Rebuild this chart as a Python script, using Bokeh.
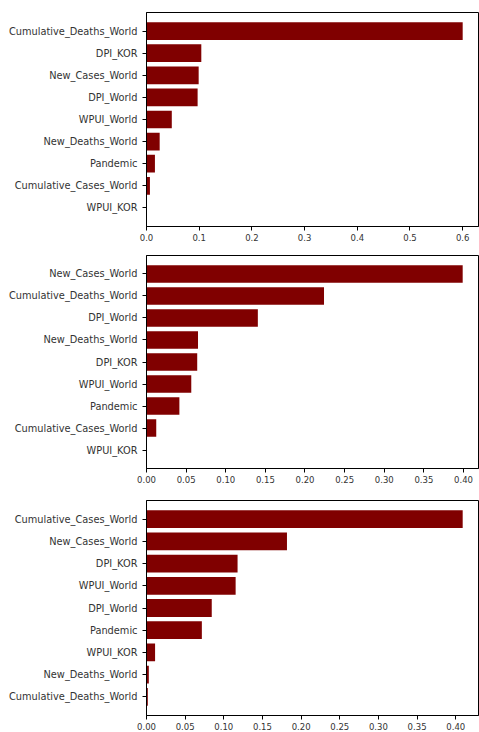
from bokeh.plotting import figure
from bokeh.layouts import column
from bokeh.models import FactorRange, Range1d, FixedTicker, PrintfTickFormatter
from bokeh.embed import file_html
from bokeh.resources import INLINE

# Panel 1 (top to bottom)
labels1 = ["Cumulative_Deaths_World", "DPI_KOR", "New_Cases_World", "DPI_World",
           "WPUI_World", "New_Deaths_World", "Pandemic", "Cumulative_Cases_World", "WPUI_KOR"]
values1 = [0.600, 0.104, 0.099, 0.097, 0.048, 0.025, 0.016, 0.0065, 0.0]
ticks1 = [0.0, 0.1, 0.2, 0.3, 0.4, 0.5, 0.6]

# Panel 2
labels2 = ["New_Cases_World", "Cumulative_Deaths_World", "DPI_World", "New_Deaths_World",
           "DPI_KOR", "WPUI_World", "Pandemic", "Cumulative_Cases_World", "WPUI_KOR"]
values2 = [0.399, 0.224, 0.1405, 0.065, 0.064, 0.0565, 0.0415, 0.0123, 0.0]
ticks2 = [0.0, 0.05, 0.10, 0.15, 0.20, 0.25, 0.30, 0.35, 0.40]

# Panel 3
labels3 = ["Cumulative_Cases_World", "New_Cases_World", "DPI_KOR", "WPUI_World",
           "DPI_World", "Pandemic", "WPUI_KOR", "New_Deaths_World", "Cumulative_Deaths_World"]
values3 = [0.409, 0.1817, 0.1178, 0.1153, 0.0844, 0.0716, 0.0111, 0.003, 0.0017]
ticks3 = [0.0, 0.05, 0.10, 0.15, 0.20, 0.25, 0.30, 0.35, 0.40]

BAR = "#800000"
FONT = "DejaVu Sans"
TXT = "#333333"


def make_panel(labels, values, ticks, fmt, height, top, bottom):
    factors = list(reversed(labels))
    p = figure(width=479, height=height, output_backend="svg", toolbar_location=None,
               y_range=FactorRange(factors=factors, range_padding=0.34,
                                   range_padding_units="absolute"),
               x_range=Range1d(0, max(values) * 1.05),
               min_border_left=146, min_border_right=1,
               min_border_top=top, min_border_bottom=bottom)
    p.hbar(y=labels, right=values, left=0, height=0.8, fill_color=BAR, line_color=None)
    p.xgrid.visible = False
    p.ygrid.visible = False
    p.background_fill_color = "white"
    p.border_fill_color = "white"
    p.outline_line_color = "black"
    p.outline_line_width = 1
    p.xaxis.ticker = FixedTicker(ticks=ticks)
    p.xaxis.formatter = PrintfTickFormatter(format=fmt)
    for ax in (p.xaxis, p.yaxis):
        ax.axis_line_color = "black"
        ax.axis_line_width = 1
        ax.major_tick_in = 0
        ax.major_tick_out = 4
        ax.minor_tick_line_color = None
        ax.major_label_text_font = FONT
        ax.major_label_text_color = TXT
    p.xaxis.major_label_standoff = 3
    p.yaxis.major_label_standoff = 5
    p.xaxis.major_label_text_font_size = "8.5px"
    p.yaxis.major_label_text_font_size = "9.8px"
    return p


p1 = make_panel(labels1, values1, ticks1, "%.1f", 245, 12, 19)
p2 = make_panel(labels2, values2, ticks2, "%.2f", 245, 10, 22)
p3 = make_panel(labels3, values3, ticks3, "%.2f", 242, 10, 16)

layout = column(p1, p2, p3, spacing=0)
open("out.html", "w").write(file_html(layout, INLINE))
